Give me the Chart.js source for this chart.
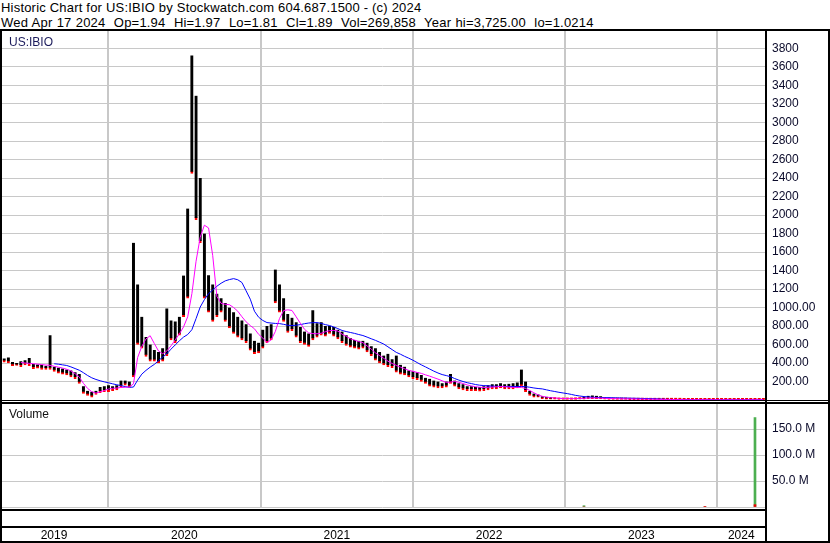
<!DOCTYPE html>
<html>
<head>
<meta charset="utf-8">
<script src="https://cdn.jsdelivr.net/npm/chart.js@4.4.1/dist/chart.umd.min.js"></script>
<style>
  html, body { margin: 0; padding: 0; background: #fff; }
  #wrap { position: relative; width: 830px; height: 543px; overflow: hidden; font-family: Arial, "Liberation Sans", sans-serif; }
  .hdr { position: absolute; left: 1px; top: 1px; font-size: 13px; line-height: 14.6px; white-space: pre; color: #000; letter-spacing: 0.2px; }
  .hdr .l2 { word-spacing: 0.4px; }
  .tag { position: absolute; font-size: 12px; line-height: 12px; }
  canvas { position: absolute; left: 0; }
  .ln { position: absolute; background: #000; }
</style>
</head>
<body>
<div id="wrap">
  <div class="hdr">Historic Chart for US:IBIO by Stockwatch.com 604.687.1500 - (c) 2024
<span class="l2">Wed Apr 17 2024  Op=1.94  Hi=1.97  Lo=1.81  Cl=1.89  Vol=269,858  Year hi=3,725.00  lo=1.0214</span></div>

  <canvas id="priceChart" width="830" height="386" style="top:22px"></canvas>
  <canvas id="volumeChart" width="830" height="148" style="top:395px"></canvas>

  <div class="tag" style="left:9px;top:36px;color:#1c1c5c">US:IBIO</div>
  <div class="tag" style="left:9px;top:408px;color:#111">Volume</div>

  <!-- frame -->
  <div class="ln" style="left:0;top:29px;width:830px;height:2px"></div>
  <div class="ln" style="left:0;top:29px;width:2px;height:514px"></div>
  <div class="ln" style="left:765px;top:29px;width:2px;height:514px"></div>
  <div class="ln" style="left:828px;top:29px;width:2px;height:514px"></div>
  <div class="ln" style="left:0;top:400px;width:830px;height:1px"></div>
  <div class="ln" style="left:0;top:402px;width:830px;height:2px"></div>
  <div class="ln" style="left:0;top:509px;width:767px;height:2px"></div>
  <div class="ln" style="left:0;top:526px;width:767px;height:2px"></div>
  <div class="ln" style="left:0;top:541px;width:830px;height:2px"></div>
</div>

<script>
// days counted from Apr 17 2019, one bar per 10 days
const STEP_DAYS = 10;
const X_MIN = 0;
const X_MAX = 1834;
const yearStarts = [259, 625, 990, 1355, 1720];
const yearLabels = ['2019', '2020', '2021', '2022', '2023', '2024'];

const lows = [
  400,410,400,370,375,360,380,370,340,345,
  330,330,330,310,290,280,270,250,230,180,
  70,50,30,60,80,90,90,100,110,140,
  160,140,250,600,560,470,420,420,400,420,
  480,650,620,700,900,1100,2450,1950,1700,1100,
  950,850,900,950,850,780,720,680,650,620,
  540,500,510,560,620,650,1050,950,850,730,
  750,680,620,600,580,650,680,700,690,720,
  690,660,620,590,570,560,550,560,520,480,
  430,400,380,360,350,300,280,270,250,230,
  220,200,180,150,140,130,130,140,180,150,
  120,110,100,100,100,95,100,110,120,120,
  130,120,120,120,130,150,90,50,30,30,
  15,10,10,8,5,5,5,5,6,8,
  10,15,15,15,12,8,6,5,5,5,
  5,4,4,4,4,3,3,3,3,3,
  2,2,2,2,1,1,1,1,1,1,
  1,1,1,1,1,1,1,1,1,1,
  1,1,1,1
];
const highs = [
  440,450,460,410,400,420,430,455,390,385,
  380,370,700,360,350,340,330,320,300,280,
  150,100,90,100,140,150,160,150,160,210,
  210,200,1700,1250,900,680,600,540,520,560,
  990,860,850,900,1345,2070,3725,3290,2400,1800,
  1350,1250,1150,1100,1050,1000,950,900,860,820,
  720,640,620,760,800,820,1410,1250,1100,930,
  890,840,790,740,720,970,830,840,800,800,
  790,760,740,700,670,650,640,640,620,580,
  560,520,480,500,440,480,380,360,320,310,
  300,270,240,230,210,200,180,200,280,210,
  180,170,150,150,140,140,150,160,170,170,
  180,170,175,180,190,330,200,100,70,60,
  40,35,30,25,22,20,18,18,20,25,
  35,45,50,45,40,25,20,18,15,15,
  15,14,13,12,11,10,10,9,9,8,
  7,6,5,5,4,4,3,3,4,3,
  3,3,4,3,3,3,3,4,3,3,
  3,3,2,2
];
// magenta (short) moving average
const maShort = [
  null,null,null,null,null,405,400,396,392,388,
  383,378,375,364,355,345,332,315,285,250,
  180,125,90,75,88,102,118,126,130,135,
  138,140,175,460,580,660,695,610,530,500,
  530,585,650,715,790,900,1150,1500,1760,1890,
  1860,1560,1120,1045,1035,1030,1000,960,900,845,
  805,770,710,670,620,650,740,880,967,975,
  968,900,830,765,725,718,716,722,738,750,
  752,745,712,690,662,648,632,620,585,550,
  510,480,450,420,395,375,355,338,320,310,
  298,288,272,258,242,226,208,190,194,200,
  192,178,163,152,144,138,135,137,140,143,
  146,144,140,137,135,136,125,103,78,55,
  40,31,26,22,18,16,15,15,15,17,
  19,21,22,22,21,18,16,15,14,13,
  12,12,11,10,10,9,9,8,7,6,
  5,5,5,4,3,3,3,3,3,3,
  2,2,2,2,2,2,2,2,2,2,
  2,2,2,2
];
// blue (long) moving average
const maLong = [
  null,null,null,null,null,null,null,null,null,null,
  null,null,null,392,387,380,373,358,340,322,
  295,265,240,222,208,196,186,175,165,155,
  145,137,140,215,280,320,355,385,425,465,
  500,550,595,640,680,708,760,880,1005,1085,
  1150,1190,1230,1262,1288,1302,1312,1300,1270,1180,
  1090,960,895,860,837,832,828,826,818,808,
  805,808,815,825,832,836,837,828,815,805,
  790,772,752,740,730,720,708,697,680,662,
  645,625,605,575,545,515,495,472,452,430,
  405,380,358,335,312,292,275,264,252,232,
  215,200,187,178,167,160,156,153,150,148,
  147,146,146,146,146,146,144,138,130,124,
  120,110,100,92,83,76,69,60,50,43,
  37,33,30,28,27,26,25,24,23,22,
  21,20,19,18,17,16,15,13,11,9,
  7,6,5,4,4,4,3,3,3,3,
  3,3,3,3,3,3,3,3,3,3,
  3,3,3,3
];

// volume, millions of shares
const volDays = [1400, 1690, 1810];
const volUp = [2.5, 0, 172];
const volDown = [0, 1.2, 4.5];

const GRID = '#c8c8c8';
const TICK_FONT = { family: 'Arial, "Liberation Sans", sans-serif', size: 12 };
const TICK_COLOR = '#0a0a2a';

Chart.defaults.font.family = TICK_FONT.family;

const yearMids = [X_MIN, ...yearStarts].map((d, i) => (d + ([...yearStarts, X_MAX][i])) / 2);

const priceBars = lows.map((lo, i) => ({ x: i * STEP_DAYS, y: [lo, highs[i]] }));
const toLine = arr => arr.map((v, i) => ({ x: i * STEP_DAYS, y: v }));

function yearGridAxis() {
    return {
        type: 'linear',
        min: X_MIN,
        max: X_MAX,
        offset: false,
        position: 'bottom',
        grid: { color: GRID, lineWidth: 2, drawTicks: false, offset: false },
        border: { display: false },
        ticks: { display: false },
        afterBuildTicks: s => { s.ticks = yearStarts.map(v => ({ value: v })); },
        afterFit: s => { s.height = 0; }
    };
}

new Chart(document.getElementById('priceChart'), {
    type: 'bar',
    data: {
        datasets: [
            {
                type: 'line',
                data: toLine(maShort),
                borderColor: '#ff00ff',
                borderWidth: 1,
                pointRadius: 0,
                spanGaps: false,
                order: 1
            },
            {
                type: 'line',
                data: toLine(maLong),
                borderColor: '#0000ff',
                borderWidth: 1,
                pointRadius: 0,
                spanGaps: false,
                order: 2
            },
            {
                data: priceBars,
                backgroundColor: c => (c.raw && c.raw.y[1] < 30 ? '#f00000' : '#000000'),
                borderColor: '#ff0000',
                borderWidth: { top: 0, right: 0, bottom: 2, left: 0 },
                borderSkipped: false,
                barThickness: 3,
                minBarLength: 2,
                order: 3
            }
        ]
    },
    options: {
        responsive: false,
        animation: false,
        events: [],
        layout: { padding: { top: 8, bottom: 8, left: 0, right: 0 } },
        plugins: { legend: { display: false }, tooltip: { enabled: false } },
        scales: {
            x: yearGridAxis(),
            y: {
                position: 'right',
                min: 0,
                max: 4000,
                grid: { color: GRID, lineWidth: 1, drawTicks: true, tickLength: 7, tickColor: 'rgba(0,0,0,0)' },
                border: { display: false },
                afterFit: s => { s.width = 65; },
                ticks: {
                    stepSize: 200,
                    padding: 0,
                    autoSkip: false,
                    includeBounds: false,
                    color: TICK_COLOR,
                    font: TICK_FONT,
                    callback: v => (v === 0 || v > 3800) ? '' : (v >= 1200 ? String(v) : v.toFixed(2))
                }
            }
        }
    }
});

const yearRule = {
    id: 'yearRule',
    afterDraw(chart) {
        const { ctx, chartArea, scales } = chart;
        ctx.save();
        ctx.strokeStyle = '#000';
        ctx.lineWidth = 2;
        yearStarts.forEach(d => {
            const px = Math.round(scales.x.getPixelForValue(d));
            ctx.beginPath();
            ctx.moveTo(px, chartArea.bottom);
            ctx.lineTo(px, chart.height);
            ctx.stroke();
        });
        ctx.restore();
    }
};

new Chart(document.getElementById('volumeChart'), {
    type: 'bar',
    data: {
        datasets: [
            {
                data: volDays.map((d, i) => ({ x: d, y: volDown[i] })),
                backgroundColor: '#ee0000',
                barThickness: 2,
                order: 1
            },
            {
                data: volDays.map((d, i) => ({ x: d, y: volUp[i] })),
                backgroundColor: '#4caf50',
                barThickness: 2,
                order: 2
            }
        ]
    },
    options: {
        responsive: false,
        animation: false,
        events: [],
        layout: { padding: { top: 8, bottom: 0, left: 0, right: 0 } },
        plugins: { legend: { display: false }, tooltip: { enabled: false } },
        datasets: { bar: { grouped: false } },
        scales: {
            x: yearGridAxis(),
            xYears: {
                type: 'linear',
                position: 'bottom',
                min: X_MIN,
                max: X_MAX,
                offset: false,
                grid: { display: false, drawTicks: true, tickLength: 21 },
                border: { display: false },
                afterBuildTicks: s => { s.ticks = yearMids.map(v => ({ value: v })); },
                afterFit: s => { s.height = 36; },
                ticks: {
                    autoSkip: false,
                    maxRotation: 0,
                    padding: 0,
                    color: '#000',
                    font: TICK_FONT,
                    callback: (v, i) => yearLabels[i]
                }
            },
            y: {
                position: 'right',
                min: 0,
                max: 200,
                grid: { color: GRID, lineWidth: 1, drawTicks: true, tickLength: 7, tickColor: 'rgba(0,0,0,0)' },
                border: { display: false },
                afterFit: s => { s.width = 65; },
                ticks: {
                    stepSize: 50,
                    padding: 0,
                    autoSkip: false,
                    color: TICK_COLOR,
                    font: TICK_FONT,
                    callback: v => (v === 0 || v >= 200) ? '' : v.toFixed(1) + ' M'
                }
            }
        }
    }
});
</script>
</body>
</html>
